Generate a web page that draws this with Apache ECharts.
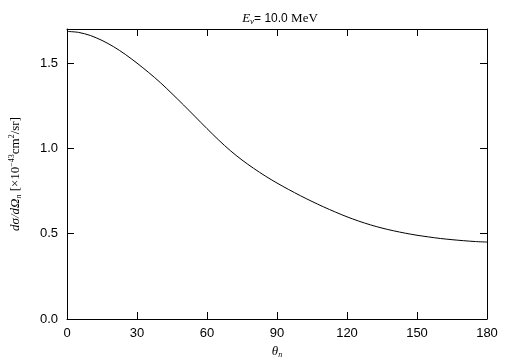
<!DOCTYPE html>
<html><head><meta charset="utf-8">
<script src="https://cdn.jsdelivr.net/npm/echarts@6/dist/echarts.min.js"></script>
<style>html,body{margin:0;padding:0;background:#fff}#c{width:505px;height:361px}</style>
</head><body><div id="c"></div>
<script>
const thetaDeg = [0,5,10,15,20,25,30,35,40,45,50,55,60,65,70,75,80,85,90,95,100,105,110,115,120,125,130,135,140,145,150,155,160,165,170,175,180];
const crossSection = [1.686,1.680,1.662,1.633,1.596,1.551,1.500,1.445,1.386,1.321,1.254,1.185,1.116,1.049,0.987,0.932,0.883,0.838,0.797,0.759,0.723,0.689,0.657,0.627,0.599,0.574,0.552,0.533,0.517,0.503,0.491,0.481,0.472,0.465,0.459,0.454,0.451];
const xTicks = [0,30,60,90,120,150,180];
const yTicks = [0.0,0.5,1.0,1.5];

const chart = echarts.init(document.getElementById('c'), null, {renderer:'canvas'});
const sans = '"Liberation Sans", Arial, sans-serif';
const serif = '"Liberation Serif", "Times New Roman", serif';
function axisCommon(){
  return {
    axisLine:{show:true,onZero:false,lineStyle:{color:'#000',width:1}},
    axisTick:{show:true,inside:true,length:7,lineStyle:{color:'#000',width:1}},
    splitLine:{show:false}
  };
}
const xBase = () => Object.assign({type:'value',min:0,max:180,interval:30}, axisCommon());
const yBase = () => Object.assign({type:'value',min:0,max:1.7,interval:0.5}, axisCommon());
chart.setOption({
  animation:false,
  backgroundColor:'#fff',
  title:{
    text:'{i|E}{sub|ν}{n|= 10.0 }{s|MeV}',
    left:275, top:6, textAlign:'center',
    textStyle:{
      fontWeight:'normal',
      rich:{
        i:{fontFamily:serif,fontStyle:'italic',fontWeight:'normal',fontSize:13,color:'#000'},
        sub:{fontFamily:serif,fontStyle:'italic',fontWeight:'normal',fontSize:9,color:'#000',padding:[6,0,0,0]},
        n:{fontFamily:sans,fontWeight:'normal',fontSize:12,color:'#000'},
        s:{fontFamily:serif,fontWeight:'normal',fontSize:13,color:'#000'}
      }
    }
  },
  grid:{left:67,right:18,top:29,bottom:42,containLabel:false,outerBoundsMode:'none'},
  xAxis:[
    Object.assign(xBase(), {
      position:'bottom',
      axisLabel:{show:true,color:'#000',fontFamily:sans,fontSize:13,margin:8,
        formatter:v=> xTicks.includes(v)? String(v):''},
      name:'{t|θ}{s|n}', nameLocation:'middle', nameGap:15,
      nameTextStyle:{rich:{
        t:{fontFamily:serif,fontStyle:'italic',fontSize:13,color:'#000'},
        s:{fontFamily:serif,fontStyle:'italic',fontSize:8,color:'#000',padding:[6,0,0,0]}
      }}
    }),
    Object.assign(xBase(), {position:'top',axisLabel:{show:false}})
  ],
  yAxis:[
    Object.assign(yBase(), {
      position:'left',
      axisLabel:{show:true,color:'#000',fontFamily:sans,fontSize:13,margin:9,showMaxLabel:false,
        formatter:v=>{const t=yTicks.find(a=>Math.abs(a-v)<1e-9);return t===undefined?'':t.toFixed(1);}},
      name:'{i|dσ/dΩ}{sb|n}{r| [×10}{sp|−43}{r|cm}{sp|2}{r|/sr]}',
      nameLocation:'middle', nameGap:44, nameRotate:90,
      nameTextStyle:{rich:{
        i:{fontFamily:serif,fontStyle:'italic',fontSize:13,color:'#000'},
        sb:{fontFamily:serif,fontStyle:'italic',fontSize:8,color:'#000',padding:[6,0,0,0]},
        r:{fontFamily:serif,fontSize:13,color:'#000'},
        sp:{fontFamily:serif,fontSize:8,color:'#000',padding:[0,0,7,0]}
      }}
    }),
    Object.assign(yBase(), {position:'right',axisLabel:{show:false}})
  ],
  series:[{
    type:'line',
    xAxisIndex:0,yAxisIndex:0,
    data: thetaDeg.map((t,i)=>[t,crossSection[i]]),
    smooth:0.3,
    showSymbol:false,
    lineStyle:{color:'#000',width:1},
    clip:true
  }]
});
</script>
</body></html>
